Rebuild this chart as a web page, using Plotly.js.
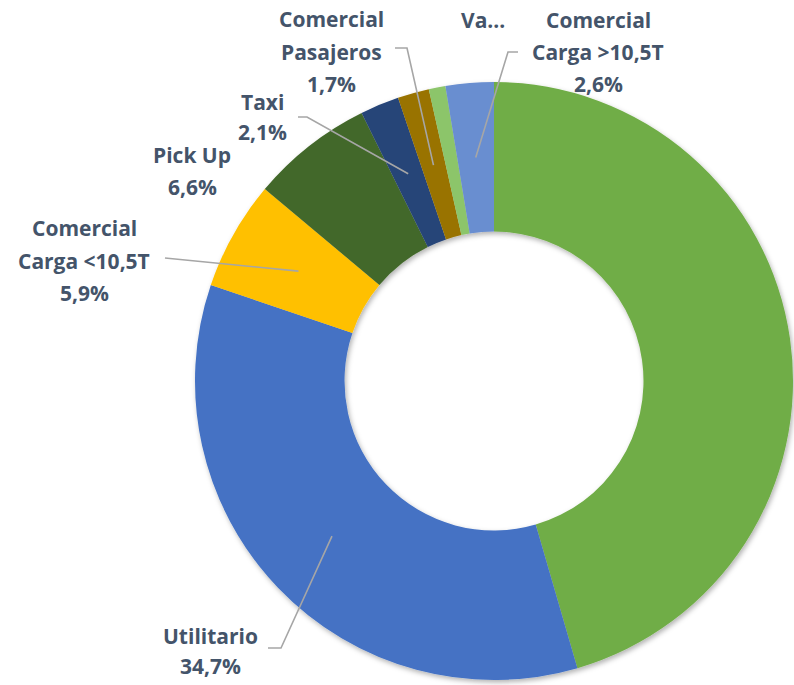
<!DOCTYPE html>
<html>
<head>
<meta charset="utf-8">
<script src="https://cdn.plot.ly/plotly-3.0.1.min.js"></script>
<style>html,body{margin:0;padding:0;background:#fff;}#chart{width:794px;height:685px;}</style>
</head>
<body>
<div id="chart"></div>
<script>
// ---- data ----
var categories = ['Automóvil', 'Utilitario', 'Comercial Carga <10,5T', 'Pick Up', 'Taxi', 'Comercial Pasajeros', 'Va...', 'Comercial Carga >10,5T'];
var values = [45.5, 34.7, 5.9, 6.6, 2.1, 1.7, 0.9, 2.6];
var colors = ['#70AD47', '#4472C4', '#FFC000', '#43682B', '#264478', '#997300', '#8CC56A', '#698ED0'];
// display lines of each label (wrapped as in the reference), null = no label
var labelLines = [null, ['Utilitario'], ['Comercial', 'Carga <10,5T'], ['Pick Up'], ['Taxi'], ['Comercial', 'Pasajeros'], ['Va...'], ['Comercial', 'Carga >10,5T']];
var showPct = [false, true, true, true, true, true, false, true];

// ---- layout (pixels) ----
var W = 794, H = 685;
var CX = 494, CY = 381, R = 299;
var labelPos = [
  null,
  {x: 210, y: 636, dy: 30, lead: [[268, 648], [281, 648]]},
  {x: 84, y: 228, dy: 32.5, lead: [[165, 258]]},
  {x: 192, y: 155, dy: 32, lead: null},
  {x: 262, y: 102, dy: 30, lead: [[298, 117], [307, 117]]},
  {x: 331, y: 19, dy: 32.5, lead: [[395, 48], [407, 48]]},
  {x: 483, y: 20, dy: 32, lead: null},
  {x: 598, y: 20, dy: 32, lead: [[518, 52], [508, 52]]}
];

function px(x) { return x / W; }
function py(y) { return 1 - y / H; }
function fmt(v) { return v.toFixed(1).replace('.', ',') + '%'; }

var total = values.reduce(function (a, b) { return a + b; }, 0);
var annotations = [];
var shapes = [];
var cum = 0;
for (var i = 0; i < values.length; i++) {
  var mid = (cum + values[i] / 2) / total;
  cum += values[i];
  if (!labelLines[i]) continue;
  var p = labelPos[i];
  var lines = labelLines[i].slice();
  if (showPct[i]) lines.push(fmt(values[i] / total * 100));
  lines.forEach(function (t, k) {
    annotations.push({
      xref: 'paper', yref: 'paper', x: px(p.x), y: py(p.y + k * p.dy),
      xanchor: 'center', yanchor: 'middle', showarrow: false, text: '<b>' + t + '</b>',
      font: {family: '"Open Sans", Lato, sans-serif', size: 21, color: '#44546A'}
    });
  });
  if (p.lead) {
    var ang = mid * 2 * Math.PI;
    var ex = CX + 0.75 * R * Math.sin(ang);
    var ey = CY - 0.75 * R * Math.cos(ang);
    var pts = p.lead.concat([[ex, ey]]);
    var path = pts.map(function (q, k) { return (k ? 'L' : 'M') + px(q[0]) + ',' + py(q[1]); }).join(' ');
    shapes.push({type: 'path', xref: 'paper', yref: 'paper', path: path, line: {color: '#A6A6A6', width: 1.6}});
  }
}

var trace = {
  type: 'pie', labels: categories, values: values, hole: 0.5, sort: false,
  direction: 'clockwise', rotation: 0, textinfo: 'none', hoverinfo: 'label+percent',
  marker: {colors: colors, line: {width: 0}},
  domain: {x: [px(CX - R), px(CX + R)], y: [py(CY + R), py(CY - R)]}
};

var layout = {
  width: W, height: H, margin: {l: 0, r: 0, t: 0, b: 0},
  showlegend: false, paper_bgcolor: '#ffffff',
  annotations: annotations, shapes: shapes
};

Plotly.newPlot('chart', [trace], layout, {staticPlot: true}).then(function (gd) {
  // soft outer shadow like the original office chart
  var svg = gd.querySelector('svg.main-svg');
  var NS = 'http://www.w3.org/2000/svg';
  var defs = document.createElementNS(NS, 'defs');
  var f = document.createElementNS(NS, 'filter');
  f.setAttribute('id', 'donutShadow');
  f.setAttribute('x', '-10%'); f.setAttribute('y', '-10%');
  f.setAttribute('width', '120%'); f.setAttribute('height', '120%');
  var ds = document.createElementNS(NS, 'feDropShadow');
  ds.setAttribute('dx', '1.5'); ds.setAttribute('dy', '2.5');
  ds.setAttribute('stdDeviation', '2.5');
  ds.setAttribute('flood-color', '#000'); ds.setAttribute('flood-opacity', '0.3');
  f.appendChild(ds); defs.appendChild(f); svg.insertBefore(defs, svg.firstChild);
  var tr = gd.querySelector('.pielayer .trace');
  if (tr) tr.setAttribute('filter', 'url(#donutShadow)');
});
</script>
</body>
</html>
